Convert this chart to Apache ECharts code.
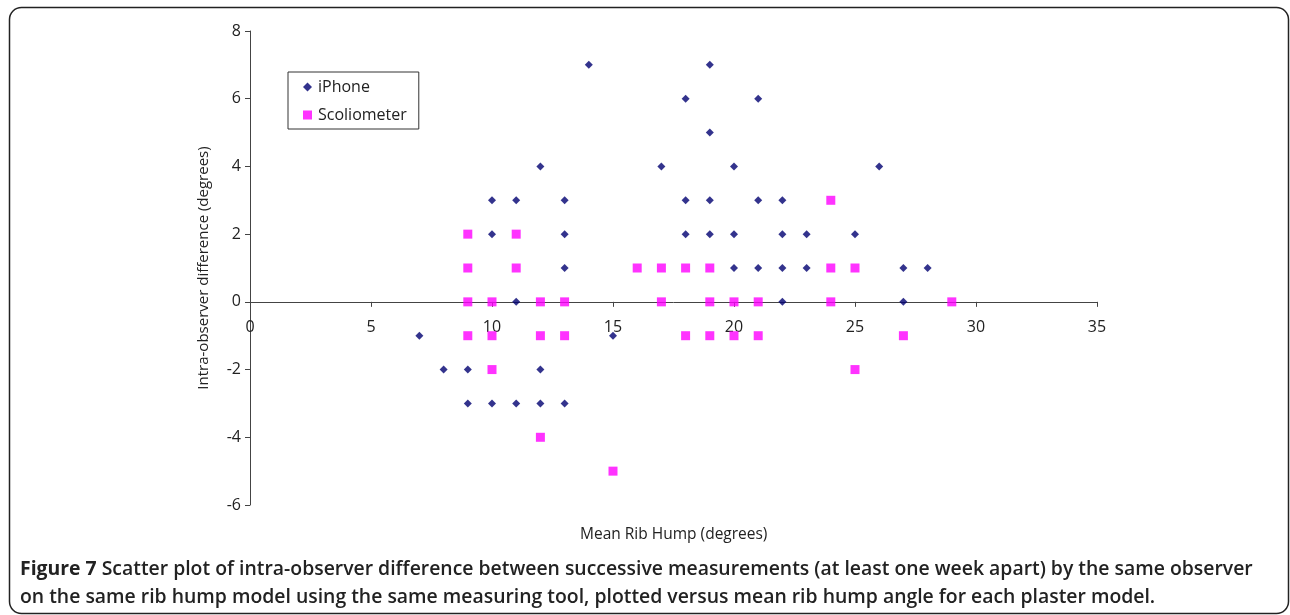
<!DOCTYPE html>
<html><head><meta charset="utf-8">
<script src="https://cdn.jsdelivr.net/npm/echarts@6/dist/echarts.min.js"></script>
<style>html,body{margin:0;padding:0;background:#fff}#c{width:1290px;height:615px}</style>
</head><body><div id="c"></div>
<script>
// iPhone: [mean rib hump, difference]
const iphoneX = [7, 8, 9, 9, 10, 10, 10, 11, 11, 11, 12, 12, 12, 13, 13, 13, 13, 14, 15, 17, 18, 18, 18, 19, 19, 19, 19, 20, 20, 20, 21, 21, 21, 22, 22, 22, 22, 23, 23, 25, 26, 27, 27, 28];
const iphoneY = [-1, -2, -2, -3, 3, 2, -3, 3, 0, -3, 4, -2, -3, 3, 2, 1, -3, 7, -1, 4, 6, 3, 2, 7, 5, 3, 2, 4, 2, 1, 6, 3, 1, 3, 2, 1, 0, 2, 1, 2, 4, 1, 0, 1];
const scolioX = [9, 9, 9, 9, 10, 10, 10, 11, 11, 12, 12, 12, 13, 13, 15, 16, 17, 17, 18, 18, 19, 19, 19, 20, 20, 21, 21, 24, 24, 24, 25, 25, 27, 29];
const scolioY = [2, 1, 0, -1, 0, -1, -2, 2, 1, 0, -1, -4, 0, -1, -5, 1, 1, 0, 1, -1, 1, 0, -1, 0, -1, 0, -1, 3, 1, 0, 1, -2, -1, 0];
const xTicks = [0, 5, 10, 15, 20, 25, 30, 35];
const yTicks = [-6, -4, -2, 0, 2, 4, 6, 8];
const seriesNames = ['iPhone', 'Scoliometer'];
const xTitle = 'Mean Rib Hump (degrees)';
const yTitle = 'Intra-observer difference (degrees)';
const captionBold = 'Figure 7';
const captionLine1 = ' Scatter plot of intra-observer difference between successive measurements (at least one week apart) by the same observer';
const captionLine2 = 'on the same rib hump model using the same measuring tool, plotted versus mean rib hump angle for each plaster model.';

const zip = (a, b) => a.map((v, i) => [v, b[i]]);
const font = '"Open Sans", sans-serif';
const gridTop = 31, gridBottom = 110, H = 615;
const plotH = H - gridTop - gridBottom;
const yMin = yTicks[0], yMax = yTicks[yTicks.length - 1];
// move the x axis up so that it crosses the y axis at 0
const xAxisOffset = -plotH * (0 - yMin) / (yMax - yMin);

const chart = echarts.init(document.getElementById('c'), null, {renderer: 'canvas'});
chart.setOption({
  animation: false,
  backgroundColor: '#fff',
  textStyle: {fontFamily: font},
  grid: {left: 250, right: 193, top: gridTop, bottom: gridBottom},
  legend: {
    orient: 'vertical', left: 288, top: 72, itemGap: 12,
    padding: [7, 12, 6, 15],
    borderColor: '#333', borderWidth: 1,
    itemWidth: 9, itemHeight: 9,
    textStyle: {fontFamily: font, fontSize: 16, color: '#222', padding: [0, 0, 0, 1]},
    data: [
      {name: seriesNames[0], icon: 'diamond', itemStyle: {color: '#000070'}},
      {name: seriesNames[1], icon: 'rect', itemStyle: {color: '#ff00ff'}}
    ]
  },
  xAxis: {
    type: 'value', min: xTicks[0], max: xTicks[xTicks.length - 1], interval: 5,
    position: 'bottom', offset: xAxisOffset,
    axisLine: {onZero: false, lineStyle: {color: '#444', width: 1}},
    axisTick: {show: true, inside: false, length: 5, lineStyle: {color: '#444'}},
    axisLabel: {fontFamily: font, fontSize: 16, color: '#222', margin: 18},
    splitLine: {show: false}
  },
  yAxis: {
    type: 'value', min: yMin, max: yMax, interval: 2,
    name: yTitle, nameLocation: 'middle', nameGap: 39, nameRotate: 90,
    nameTextStyle: {fontFamily: font, fontSize: 15, color: '#222'},
    axisLine: {show: true, lineStyle: {color: '#444', width: 1}},
    axisTick: {show: true, length: 5, lineStyle: {color: '#444'}},
    axisLabel: {fontFamily: font, fontSize: 16, color: '#222', margin: 9},
    splitLine: {show: false}
  },
  series: [
    {name: seriesNames[0], type: 'scatter', symbol: 'diamond', symbolSize: 8,
     itemStyle: {color: '#000070'}, data: zip(iphoneX, iphoneY), z: 3},
    {name: seriesNames[1], type: 'scatter', symbol: 'rect', symbolSize: 9,
     itemStyle: {color: '#ff00ff'}, data: zip(scolioX, scolioY), z: 2}
  ],
  graphic: [
    {type: 'rect', shape: {x: 9.5, y: 7.5, width: 1279, height: 606, r: 12},
     style: {fill: 'none', stroke: '#222', lineWidth: 1.5}, silent: true, z: -1},
    {type: 'text', left: 580, top: 527,
     style: {text: xTitle, font: '15.5px ' + font, fill: '#222'}},
    {type: 'text', left: 20, top: 560,
     style: {
       text: '{b|' + captionBold + '}{n|' + captionLine1 + '}\n{n|' + captionLine2 + '}',
       rich: {
         b: {fontFamily: font, fontSize: 19.4, fontWeight: 'bold', fill: '#222', lineHeight: 28},
         n: {fontFamily: font, fontSize: 19.4, fontWeight: 600, fill: '#222', lineHeight: 28}
       }
     }}
  ]
});
</script></body></html>
